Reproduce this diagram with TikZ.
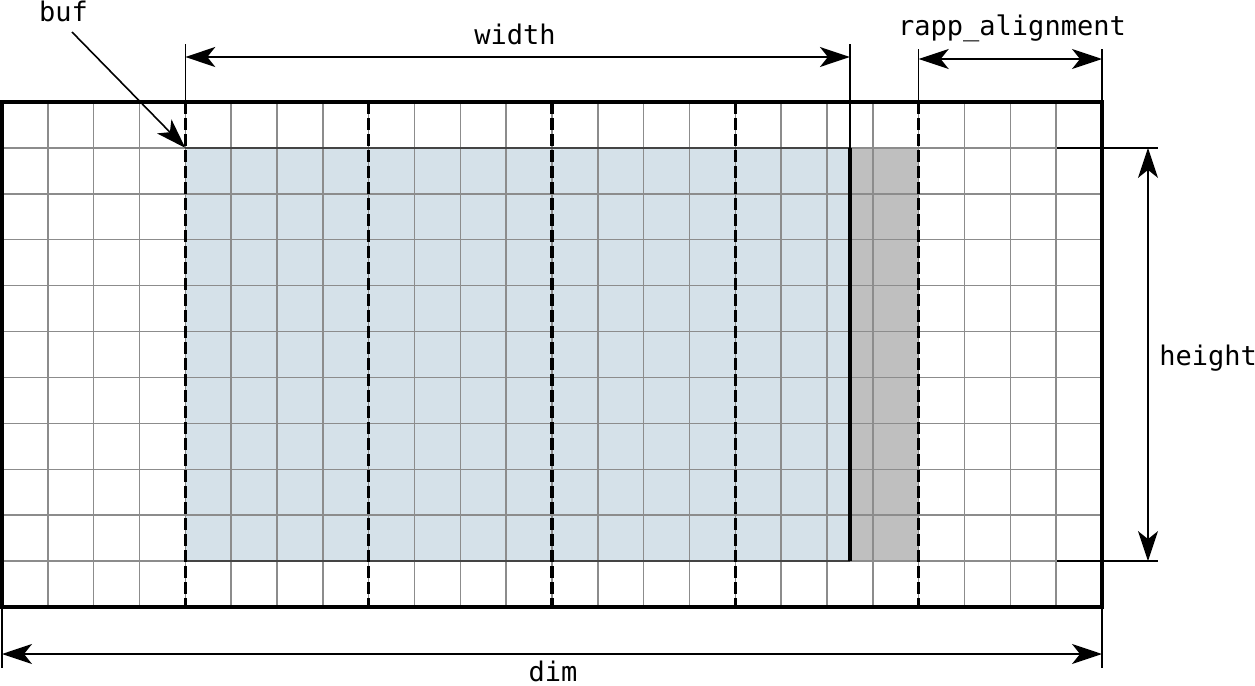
\documentclass[tikz,border=0pt]{standalone}
\usepackage{fontspec}
\setmonofont{DejaVu Sans Mono}
\usepackage{tikz}
\usetikzlibrary{arrows.meta}
\definecolor{bufblue}{HTML}{D5E1E9}
\definecolor{padgray}{HTML}{BFBFBF}
\definecolor{cellgray}{HTML}{8C8C8C}
\definecolor{edgegray}{HTML}{444444}
\tikzset{
  cellline/.style={cellgray, line width=0.75pt},
  fence/.style={black, line width=1.8pt, dash pattern={on 6pt off 2pt}},
  frameline/.style={black, line width=1.7pt},
  extline/.style={black, line width=0.75pt},
  dimline/.style={black, line width=0.8pt,
    {Stealth[length=15pt,width=10pt,inset=4pt]}-{Stealth[length=15pt,width=10pt,inset=4pt]}},
  pointer/.style={black, line width=0.8pt, -{Stealth[length=15pt,width=10pt,inset=4pt]}},
  dimlabel/.style={font=\ttfamily\fontsize{13.5}{16}\selectfont, inner sep=0pt},
}

\begin{document}
\begin{tikzpicture}[x=0.5pt,y=0.5pt,yscale=-1,xscale=1]
\useasboundingbox (0,0) rectangle (1255,686);

%Shape: buffer area and padding
\fill[bufblue] (185.3,147.9) rectangle (849.9,561.1);
\fill[padgray] (849.9,147.9) rectangle (918.7,561.1);

%Cells
\foreach \i in {1,...,23}
  \draw[cellline] ({2+\i*45.833},102) -- ({2+\i*45.833},607);
\foreach \j in {1,...,10}
  \draw[cellline] (2,{102+\j*45.909}) -- (1102,{102+\j*45.909});

%Straight Lines: edges of the buffer
\coordinate (bufNW) at (185.3,147.9);
\coordinate (bufNE) at (849.9,147.9);
\coordinate (bufSW) at (185.3,561.1);
\coordinate (bufSE) at (849.9,561.1);
\draw[edgegray, line width=0.9pt] (bufNW) -- (bufNE);
\draw[edgegray, line width=0.9pt] (bufSW) -- (bufSE);
\draw[black, line width=1.7pt] (bufNE) -- (bufSE);

%Dashed columns
\foreach \c in {4,8,12,16,20}
  \draw[fence] ({2+\c*45.833},102) -- ({2+\c*45.833},607);

%Shape: outer frame
\draw[frameline] (2,102) rectangle (1102,607);

%Dimension: width
\coordinate (wTopL) at (185.3,44);
\coordinate (wTopR) at (849.9,44);
\coordinate (wBotL) at (185.3,102);
\coordinate (wL) at (185.3,57);
\coordinate (wR) at (849.9,57);
\draw[extline] (wTopL) -- (wBotL);
\draw[extline] (wTopR) -- (bufNE);
\draw[dimline] (wL) -- (wR);

%Dimension: rapp_alignment
\coordinate (rTopL) at (918.7,49);
\coordinate (rTopR) at (1102,49);
\coordinate (rBotL) at (918.7,102);
\coordinate (rBotR) at (1102,102);
\coordinate (rL) at (918.7,59);
\coordinate (rR) at (1102,59);
\draw[extline] (rTopL) -- (rBotL);
\draw[extline] (rTopR) -- (rBotR);
\draw[dimline] (rL) -- (rR);

%Dimension: height
\coordinate (hTopL) at (1057,147.9);
\coordinate (hTopR) at (1158,147.9);
\coordinate (hBotL) at (1057,561.1);
\coordinate (hBotR) at (1158,561.1);
\coordinate (hT) at (1148,147.9);
\coordinate (hB) at (1148,561.1);
\draw[extline] (hTopL) -- (hTopR);
\draw[extline] (hBotL) -- (hBotR);
\draw[dimline] (hT) -- (hB);

%Dimension: dim
\coordinate (dTopL) at (2,607);
\coordinate (dTopR) at (1102,607);
\coordinate (dBotL) at (2,668);
\coordinate (dBotR) at (1102,668);
\coordinate (dL) at (2,654);
\coordinate (dR) at (1102,654);
\draw[extline] (dTopL) -- (dBotL);
\draw[extline] (dTopR) -- (dBotR);
\draw[dimline] (dL) -- (dR);

%Pointer: buf
\coordinate (bufTail) at (72,32);
\draw[pointer] (bufTail) -- (bufNW);

% Text Node
\node (buflabel) [dimlabel, anchor=base] at (63.5,21) {buf};
% Text Node
\node (widthlabel) [dimlabel, anchor=base] at (515,44) {width};
% Text Node
\node (rapplabel) [dimlabel, anchor=base] at (1012,35) {rapp\_alignment};
% Text Node
\node (heightlabel) [dimlabel, anchor=base west] at (1159,365) {height};
% Text Node
\node (dimlabel) [dimlabel, anchor=base] at (553,681) {dim};

\end{tikzpicture}
\end{document}
